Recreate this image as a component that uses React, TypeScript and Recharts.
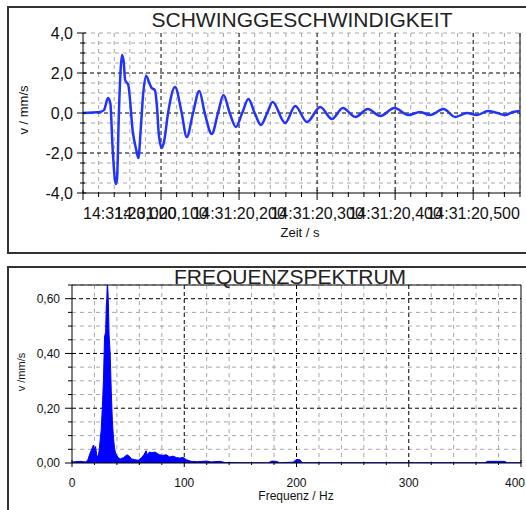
import { LineChart, Line, AreaChart, Area, XAxis, YAxis, CartesianGrid } from "recharts";

// Schwinggeschwindigkeit (time domain)
const TIME_S = [
  0, 0.022, 0.027, 0.032, 0.035, 0.038, 0.042, 0.0436, 0.046, 0.05, 0.052, 0.054, 0.058, 0.064, 0.068,
  0.071, 0.074, 0.077, 0.081, 0.085, 0.088, 0.092, 0.095, 0.097, 0.101, 0.104, 0.109, 0.118, 0.126,
  0.133, 0.141, 0.149, 0.156, 0.165, 0.173, 0.18, 0.188, 0.196, 0.204, 0.212, 0.22, 0.228, 0.236,
  0.243, 0.259, 0.272, 0.287, 0.304, 0.319, 0.333, 0.349, 0.365, 0.381, 0.399, 0.417, 0.432, 0.445,
  0.462, 0.477, 0.492, 0.505, 0.519, 0.531, 0.541, 0.551, 0.56,
];
const VELOCITY = [
  0, 0.05, 0.15, 0.75, 0.5, -1.8, -3.55, -3.3, 0, 2.9, 2.6, 1.65, 1.4, -1.0, -1.8,
  -2.25, -0.8, 0.9, 1.85, 1.5, 1.25, 1.15, 0.2, -1.0, -1.75, -1.4, 0, 1.3, 0.1,
  -1.2, 0, 1.1, 0, -1.05, 0, 0.9, 0, -0.7, 0, 0.7, 0, -0.6, 0,
  0.55, -0.5, 0.35, -0.45, 0.3, -0.3, 0.25, -0.2, 0.2, -0.15, 0.25, -0.1, 0.05, -0.1,
  0.2, -0.2, 0, -0.1, 0.1, 0, -0.1, 0.05, 0.1,
];
const TIME_TICKS = [0, 0.1, 0.2, 0.3, 0.4, 0.5];
const TIME_LABELS = ["14:31:20,000", "14:31:20,100", "14:31:20,200", "14:31:20,300", "14:31:20,400", "14:31:20,500"];
const V_TICKS = [-4, -2, 0, 2, 4];
const V_LABELS = ["-4,0", "-2,0", "0,0", "2,0", "4,0"];

// Frequenzspektrum
const FREQ_HZ = [
  0, 3, 8, 12, 14, 16, 18, 19, 20, 21, 22, 23, 24, 25, 26, 27, 28, 29, 30, 30.5, 31, 31.5, 32, 32.5,
  33, 34, 35, 36, 37, 38, 39, 41, 43, 46, 49, 51, 53, 56, 59, 62, 64, 66, 67, 69, 71, 74, 76, 78,
  81, 84, 87, 90, 93, 96, 99, 102, 106, 112, 120, 124, 132, 136, 150, 175, 178, 182, 185, 197, 200,
  203, 205, 250, 300, 368, 370, 385, 388, 400,
];
const AMPLITUDE = [
  0.003, 0.005, 0.006, 0.004, 0.01, 0.035, 0.055, 0.065, 0.05, 0.06, 0.03, 0.02, 0.04, 0.08, 0.12, 0.2,
  0.3, 0.46, 0.48, 0.57, 0.6, 0.66, 0.63, 0.57, 0.47, 0.4, 0.26, 0.15, 0.09, 0.05, 0.035, 0.02, 0.015,
  0.02, 0.03, 0.025, 0.015, 0.012, 0.01, 0.02, 0.03, 0.045, 0.03, 0.04, 0.038, 0.04, 0.035, 0.03,
  0.028, 0.03, 0.022, 0.025, 0.02, 0.018, 0.02, 0.012, 0.006, 0.005, 0.007, 0.004, 0.006, 0.002, 0.001,
  0.001, 0.007, 0.006, 0.001, 0.003, 0.013, 0.012, 0.001, 0.001, 0.001, 0.001, 0.006, 0.006, 0.001, 0.001,
];
const FREQ_TICKS = [0, 100, 200, 300, 400];
const FREQ_LABELS = ["0", "100", "200", "300", "400"];
const AMP_TICKS = [0, 0.2, 0.4, 0.6];
const AMP_LABELS = ["0,00", "0,20", "0,40", "0,60"];

const FONT = "'Liberation Sans', Arial, sans-serif";

const steps = (from: number, to: number, step: number) => {
  const out: number[] = [];
  for (let i = 0; from + i * step <= to + 1e-9; i++) out.push(Math.round((from + i * step) * 1000) / 1000);
  return out;
};
const idx = (list: number[], v: number) => list.findIndex((t) => Math.abs(t - v) < 1e-6);

const timeMinor = steps(0, 0.56, 0.02);
const vMinor = steps(-4, 4, 0.5);
const freqMinor = steps(0, 400, 20);
const ampMinor = steps(0, 0.65, 0.05);

const timeData = TIME_S.map((t, i) => ({ t, v: VELOCITY[i] }));
const freqData = FREQ_HZ.map((f, i) => ({ f, a: AMPLITUDE[i] }));

function TimeTick(props: any) {
  const { x, y, payload } = props;
  const i = idx(TIME_TICKS, payload.value);
  const major = i >= 0;
  return (
    <g>
      <line x1={x} x2={x} y1={y - (major ? 3 : 1)} y2={y + (major ? 7 : 4)} stroke="#000" />
      {major && (
        <text x={x} y={y + 26} textAnchor={i === 0 ? "start" : "middle"} fontSize={16} fontFamily={FONT} fill="#111">
          {TIME_LABELS[i]}
        </text>
      )}
    </g>
  );
}

function VTick(props: any) {
  const { x, y, payload } = props;
  const i = idx(V_TICKS, payload.value);
  const major = i >= 0;
  return (
    <g>
      <line x1={x - (major ? 6 : 3)} x2={x + (major ? 3 : 2)} y1={y} y2={y} stroke="#000" />
      {major && (
        <text x={x - 10} y={y} dy="0.36em" textAnchor="end" fontSize={16} fontFamily={FONT} fill="#111">
          {V_LABELS[i]}
        </text>
      )}
    </g>
  );
}

function FreqTick(props: any) {
  const { x, y, payload } = props;
  const i = idx(FREQ_TICKS, payload.value);
  const major = i >= 0;
  const last = i === FREQ_TICKS.length - 1;
  return (
    <g>
      <line x1={x} x2={x} y1={y - (major ? 3 : 1)} y2={y + (major ? 4 : 2)} stroke="#000" />
      {major && (
        <text x={last ? x + 4 : x} y={y + 24} textAnchor={last ? "end" : "middle"} fontSize={12} fontFamily={FONT} fill="#111">
          {FREQ_LABELS[i]}
        </text>
      )}
    </g>
  );
}

function AmpTick(props: any) {
  const { x, y, payload } = props;
  const i = idx(AMP_TICKS, payload.value);
  const major = i >= 0;
  return (
    <g>
      <line x1={x - (major ? 7 : 4)} x2={x} y1={y} y2={y} stroke="#000" />
      {major && (
        <text x={x - 12} y={y} dy="0.36em" textAnchor="end" fontSize={12} fontFamily={FONT} fill="#111">
          {AMP_LABELS[i]}
        </text>
      )}
    </g>
  );
}

export default function App() {
  return (
    <div style={{ position: "relative", width: 526, height: 510, background: "#fff", overflow: "hidden" }}>
      <style>{"body{margin:0;overflow:hidden;background:#fff}"}</style>

      <div style={{ position: "absolute", left: 0, top: 0 }}>
        <LineChart width={526} height={260} data={timeData} margin={{ top: 33, right: 6, left: 23, bottom: 27 }}>
          <CartesianGrid
            stroke="#a8a8a8"
            strokeDasharray="4 4"
            verticalValues={timeMinor.filter((t) => t > 0 && idx(TIME_TICKS, t) < 0)}
            horizontalValues={vMinor.filter((v) => v > -4 && idx([-2, 0, 2], v) < 0)}
          />
          <CartesianGrid
            stroke="#000"
            strokeDasharray="4 3"
            verticalValues={TIME_TICKS.filter((t) => t > 0)}
            horizontalValues={[-2, 0, 2]}
          />
          <CartesianGrid stroke="#000" horizontal={false} verticalValues={[0.56]} />
          <XAxis
            dataKey="t"
            type="number"
            domain={[0, 0.56]}
            allowDataOverflow
            ticks={timeMinor}
            interval={0}
            tickSize={0}
            tickMargin={0}
            tick={<TimeTick />}
            height={40}
            axisLine={{ stroke: "#000" }}
          />
          <YAxis
            type="number"
            domain={[-4, 4]}
            allowDataOverflow
            ticks={vMinor}
            interval={0}
            tickSize={0}
            tickMargin={0}
            tick={<VTick />}
            width={60}
            axisLine={{ stroke: "#000" }}
          />
          <Line
            dataKey="v"
            type="monotone"
            stroke="#2233ff"
            strokeWidth={2.5}
            dot={false}
            isAnimationActive={false}
          />
        </LineChart>
      </div>

      <div style={{ position: "absolute", left: 0, top: 260 }}>
        <AreaChart width={526} height={250} data={freqData} margin={{ top: 25, right: 5, left: 22, bottom: 7 }}>
          <CartesianGrid
            stroke="#a8a8a8"
            strokeDasharray="4 4"
            verticalValues={freqMinor.filter((f) => f > 0 && f < 400 && idx(FREQ_TICKS, f) < 0)}
            horizontalValues={ampMinor.filter((a) => a > 0 && idx(AMP_TICKS, a) < 0)}
          />
          <CartesianGrid
            stroke="#000"
            strokeDasharray="4 3"
            verticalValues={[100, 200, 300]}
            horizontalValues={[0.2, 0.4, 0.6]}
          />
          <CartesianGrid stroke="#000" verticalValues={[400]} horizontalValues={[0.65]} />
          <XAxis
            dataKey="f"
            type="number"
            domain={[0, 400]}
            allowDataOverflow
            ticks={freqMinor}
            interval={0}
            tickSize={0}
            tickMargin={0}
            tick={<FreqTick />}
            height={40}
            axisLine={{ stroke: "#000" }}
          />
          <YAxis
            type="number"
            domain={[0, 0.65]}
            allowDataOverflow
            ticks={ampMinor}
            interval={0}
            tickSize={0}
            tickMargin={0}
            tick={<AmpTick />}
            width={50}
            axisLine={{ stroke: "#000" }}
          />
          <Area
            dataKey="a"
            type="linear"
            stroke="#0000ff"
            strokeWidth={1}
            fill="#0000ff"
            fillOpacity={1}
            isAnimationActive={false}
          />
        </AreaChart>
      </div>

      <svg width={526} height={510} style={{ position: "absolute", left: 0, top: 0, pointerEvents: "none" }}>
        <path d="M530 7 H8 V253 H530" fill="none" stroke="#333" strokeWidth={2} />
        <path d="M530 267 H8 V520" fill="none" stroke="#333" strokeWidth={2} />
        <text x={302} y={27} textAnchor="middle" fontSize={21} fontFamily={FONT} fill="#222">
          SCHWINGGESCHWINDIGKEIT
        </text>
        <text x={300} y={237} textAnchor="middle" fontSize={13} fontFamily={FONT} fill="#111">
          Zeit / s
        </text>
        <text x={28} y={110} transform="rotate(-90 28 110)" textAnchor="middle" fontSize={13} fontFamily={FONT} fill="#111">
          v / mm/s
        </text>
        <text x={290} y={284} textAnchor="middle" fontSize={21} fontFamily={FONT} fill="#222">
          FREQUENZSPEKTRUM
        </text>
        <text x={296} y={500} textAnchor="middle" fontSize={12} fontFamily={FONT} fill="#111">
          Frequenz / Hz
        </text>
        <text x={25} y={372} transform="rotate(-90 25 372)" textAnchor="middle" fontSize={11} fontFamily={FONT} fill="#111">
          v /mm/s
        </text>
      </svg>
    </div>
  );
}
